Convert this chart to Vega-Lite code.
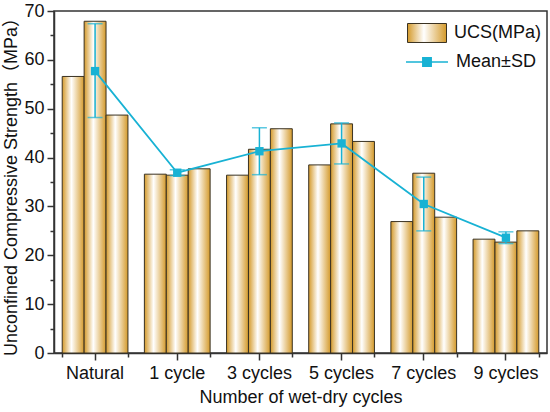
{
  "$schema": "https://vega.github.io/schema/vega-lite/v6.json",
  "width": 493,
  "height": 342,
  "autosize": {"type": "none"},
  "padding": {"left": 54, "top": 11, "right": 3, "bottom": 59},
  "datasets": {
    "bars": [
      {"cycle": "Natural", "sample": "a", "ucs": 56.6},
      {"cycle": "Natural", "sample": "b", "ucs": 67.9},
      {"cycle": "Natural", "sample": "c", "ucs": 48.7},
      {"cycle": "1 cycle", "sample": "a", "ucs": 36.6},
      {"cycle": "1 cycle", "sample": "b", "ucs": 36.4},
      {"cycle": "1 cycle", "sample": "c", "ucs": 37.7},
      {"cycle": "3 cycles", "sample": "a", "ucs": 36.4},
      {"cycle": "3 cycles", "sample": "b", "ucs": 41.7},
      {"cycle": "3 cycles", "sample": "c", "ucs": 45.9},
      {"cycle": "5 cycles", "sample": "a", "ucs": 38.5},
      {"cycle": "5 cycles", "sample": "b", "ucs": 46.9},
      {"cycle": "5 cycles", "sample": "c", "ucs": 43.3},
      {"cycle": "7 cycles", "sample": "a", "ucs": 26.9},
      {"cycle": "7 cycles", "sample": "b", "ucs": 36.8},
      {"cycle": "7 cycles", "sample": "c", "ucs": 27.8},
      {"cycle": "9 cycles", "sample": "a", "ucs": 23.3},
      {"cycle": "9 cycles", "sample": "b", "ucs": 22.7},
      {"cycle": "9 cycles", "sample": "c", "ucs": 25.0}
    ],
    "stats": [
      {"cycle": "Natural", "mean": 57.7, "lo": 48.2, "hi": 67.4},
      {"cycle": "1 cycle", "mean": 36.9, "lo": 36.3, "hi": 37.5},
      {"cycle": "3 cycles", "mean": 41.3, "lo": 36.5, "hi": 46.1},
      {"cycle": "5 cycles", "mean": 42.9, "lo": 38.7, "hi": 47.1},
      {"cycle": "7 cycles", "mean": 30.5, "lo": 25.0, "hi": 36.0},
      {"cycle": "9 cycles", "mean": 23.6, "lo": 22.4, "hi": 24.8}
    ]
  },
  "resolve": {"axis": {"x": "independent", "y": "independent"}},
  "layer": [
    {
      "data": {"name": "bars"},
      "mark": {
        "type": "bar", "stroke": "#3a3222", "strokeWidth": 1,
        "fill": {"gradient": "linear", "x1": 0, "y1": 0, "x2": 1, "y2": 0, "stops": [
          {"offset": 0, "color": "#d49a2b"},
          {"offset": 0.42, "color": "#ffffff"},
          {"offset": 1, "color": "#d49a2b"}
        ]}
      },
      "encoding": {
        "x": {
          "field": "cycle", "type": "nominal",
          "sort": ["Natural", "1 cycle", "3 cycles", "5 cycles", "7 cycles", "9 cycles"],
          "scale": {"paddingInner": 0.2, "paddingOuter": 0.1},
          "axis": {"orient": "bottom", "title": "Number of wet-dry cycles", "labelAngle": 0, "tickSize": 7, "labelPadding": 4, "titlePadding": 6}
        },
        "xOffset": {"field": "sample", "type": "nominal", "scale": {"paddingInner": 0, "paddingOuter": 0}},
        "y": {
          "field": "ucs", "type": "quantitative",
          "scale": {"domain": [0, 70], "nice": false},
          "axis": {"orient": "left", "title": "Unconfined Compressive Strength（MPa）", "values": [0, 10, 20, 30, 40, 50, 60, 70], "tickSize": 7, "labelPadding": 3, "titlePadding": 3, "grid": false}
        }
      }
    },
    {
      "data": {"name": "bars"},
      "mark": {"type": "point", "opacity": 0, "stroke": "#3a3222", "strokeWidth": 1},
      "encoding": {
        "x": {
          "field": "cycle", "type": "nominal",
          "sort": ["Natural", "1 cycle", "3 cycles", "5 cycles", "7 cycles", "9 cycles"],
          "axis": {"orient": "bottom", "title": null, "labels": false, "domain": false, "tickBand": "extent", "tickSize": 4}
        },
        "y": {
          "field": "ucs", "type": "quantitative",
          "axis": {"orient": "left", "title": null, "labels": false, "domain": false, "grid": false, "values": [5, 15, 25, 35, 45, 55, 65], "tickSize": 4}
        },
        "fill": {
          "datum": "UCS(MPa)", "type": "nominal",
          "scale": {"range": [{"expr": "{gradient: 'linear', x1: 0, y1: 0, x2: 1, y2: 0, stops: [{offset: 0, color: '#d49a2b'}, {offset: 0.42, color: '#ffffff'}, {offset: 1, color: '#d49a2b'}]}"}]},
          "legend": {
            "title": null, "orient": "none", "legendX": 353, "legendY": 2, "padding": 0,
            "symbolType": "M-1,-0.487H1V0.487H-1Z", "symbolSize": 1521,
            "symbolStrokeColor": "#3a3222", "symbolStrokeWidth": 1, "symbolOpacity": 1,
            "labelFontSize": 18, "labelOffset": 7
          }
        }
      }
    },
    {
      "data": {"name": "stats"},
      "mark": {"type": "rule", "color": "#18b2d4", "strokeWidth": 1.5},
      "encoding": {
        "x": {"field": "cycle", "type": "nominal", "sort": ["Natural", "1 cycle", "3 cycles", "5 cycles", "7 cycles", "9 cycles"], "axis": null},
        "y": {"field": "lo", "type": "quantitative", "axis": null},
        "y2": {"field": "hi"}
      }
    },
    {
      "data": {"name": "stats"},
      "mark": {"type": "tick", "color": "#18b2d4", "size": 15, "thickness": 1.5},
      "encoding": {
        "x": {"field": "cycle", "type": "nominal", "sort": ["Natural", "1 cycle", "3 cycles", "5 cycles", "7 cycles", "9 cycles"], "axis": null},
        "y": {"field": "lo", "type": "quantitative", "axis": null}
      }
    },
    {
      "data": {"name": "stats"},
      "mark": {"type": "tick", "color": "#18b2d4", "size": 15, "thickness": 1.5},
      "encoding": {
        "x": {"field": "cycle", "type": "nominal", "sort": ["Natural", "1 cycle", "3 cycles", "5 cycles", "7 cycles", "9 cycles"], "axis": null},
        "y": {"field": "hi", "type": "quantitative", "axis": null}
      }
    },
    {
      "data": {"name": "stats"},
      "mark": {"type": "line", "strokeWidth": 1.8},
      "encoding": {
        "x": {"field": "cycle", "type": "nominal", "sort": ["Natural", "1 cycle", "3 cycles", "5 cycles", "7 cycles", "9 cycles"], "axis": null},
        "y": {"field": "mean", "type": "quantitative", "axis": null},
        "stroke": {
          "datum": "Mean±SD", "type": "nominal",
          "scale": {"range": ["#18b2d4"]},
          "legend": {
            "title": null, "orient": "none", "legendX": 351, "legendY": 29, "padding": 0,
            "symbolType": "M-1,0H1M-0.2,-0.2H0.2V0.2H-0.2Z", "symbolSize": 1764,
            "symbolFillColor": "#18b2d4", "symbolStrokeWidth": 1.5,
            "labelFontSize": 18, "labelOffset": 7
          }
        }
      }
    },
    {
      "data": {"name": "stats"},
      "mark": {"type": "square", "size": 70, "color": "#18b2d4", "opacity": 1},
      "encoding": {
        "x": {"field": "cycle", "type": "nominal", "sort": ["Natural", "1 cycle", "3 cycles", "5 cycles", "7 cycles", "9 cycles"], "axis": null},
        "y": {"field": "mean", "type": "quantitative", "axis": null}
      }
    }
  ],
  "config": {
    "font": "Liberation Sans, Arial, Noto Sans CJK SC",
    "view": {"stroke": "#333333", "strokeWidth": 1.5},
    "axis": {
      "domainColor": "#333333", "domainWidth": 1.5,
      "tickColor": "#333333", "tickWidth": 1.5,
      "labelFontSize": 18, "labelColor": "#111111", "labelFont": "Liberation Sans, Arial",
      "titleFontSize": 18, "titleFontWeight": "normal", "titleColor": "#111111",
      "titleFont": "Liberation Sans, Noto Sans CJK SC"
    },
    "legend": {"labelColor": "#111111", "labelFont": "Liberation Sans, Arial"}
  }
}
